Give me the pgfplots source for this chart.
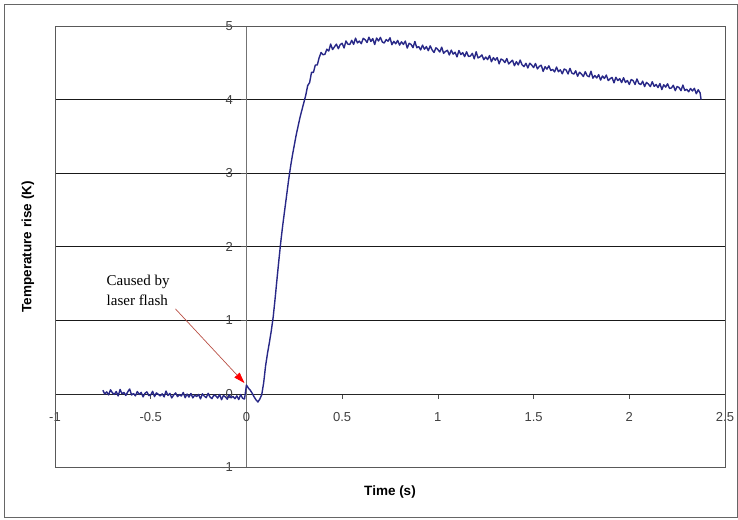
\documentclass[border=0pt]{standalone}
\usepackage{fontspec}
\setmainfont{Liberation Sans}
\newfontfamily\timesfont{Liberation Serif}
\usepackage{pgfplots}
\pgfplotsset{compat=1.18}
\usetikzlibrary{arrows.meta}
\definecolor{trace}{RGB}{40,40,135}
\definecolor{arrowline}{RGB}{185,80,70}
\begin{document}
\begin{tikzpicture}
\begin{axis}[
  scale only axis, width=670pt, height=441.5pt,
  xmin=-1, xmax=2.5, ymin=-1, ymax=5,
  axis x line=middle, axis y line=middle,
  axis line style={-},
  x axis line style={draw=black!85, line width=0.7pt},
  y axis line style={draw=black!55, line width=1pt},
  hide obscured x ticks=false, hide obscured y ticks=false,
  xtick={-1,-0.5,0,0.5,1,1.5,2,2.5},
  ytick={-1,0,1,2,3,4,5},
  xticklabels={-1,-0.5,0,0.5,1,1.5,2,2.5},
  yticklabels={-1,0,1,2,3,4,5},
  tick align=outside, major tick length=5pt,
  tick style={black!70, line width=0.6pt},
  ymajorgrids, grid style={black!90, line width=0.7pt},
  tick label style={font=\fontsize{13}{15}\selectfont, text=black!75},
  xticklabel style={anchor=north, yshift=-10pt},
  yticklabel style={anchor=east, xshift=-5pt},
  clip=false,
]
\draw[black!65, line width=0.8pt] (rel axis cs:0,0) rectangle (rel axis cs:1,1);
\addplot[trace, line width=1.4pt, line join=round] table {
-0.75 0.050
-0.74 -0.001
-0.73 0.028
-0.72 -0.013
-0.71 0.056
-0.70 0.015
-0.69 -0.006
-0.68 0.033
-0.67 -0.028
-0.66 0.061
-0.65 0.001
-0.64 0.020
-0.63 -0.021
-0.62 0.028
-0.61 0.067
-0.60 -0.014
-0.59 0.005
-0.58 -0.026
-0.57 0.033
-0.56 -0.008
-0.55 0.021
-0.54 -0.040
-0.53 0.009
-0.52 0.028
-0.51 -0.023
-0.50 -0.014
-0.49 0.035
-0.48 -0.036
-0.47 0.014
-0.46 -0.007
-0.45 -0.028
-0.44 0.001
-0.43 -0.040
-0.42 0.039
-0.41 -0.022
-0.40 0.007
-0.39 -0.054
-0.38 -0.015
-0.37 0.014
-0.36 -0.037
-0.35 -0.008
-0.34 -0.029
-0.33 0.020
-0.32 -0.051
-0.31 -0.002
-0.30 -0.043
-0.29 0.006
-0.28 -0.054
-0.27 -0.015
-0.26 -0.036
-0.25 -0.007
-0.24 -0.068
-0.23 0.001
-0.22 -0.030
-0.21 -0.051
-0.20 0.008
-0.19 -0.043
-0.18 -0.064
-0.17 -0.015
-0.16 -0.026
-0.15 -0.057
-0.14 -0.008
-0.13 -0.079
-0.12 -0.020
-0.11 -0.041
-0.10 -0.071
-0.09 -0.012
-0.08 -0.053
-0.07 -0.034
-0.06 -0.065
-0.05 -0.026
-0.04 -0.077
-0.03 -0.008
-0.02 -0.059
-0.01 -0.070
0.00 0.12
0.01 0.08
0.02 0.05
0.03 0.01
0.04 -0.04
0.05 -0.08
0.06 -0.11
0.07 -0.07
0.08 -0.01
0.09 0.15
0.10 0.38
0.11 0.55
0.12 0.70
0.13 0.86
0.14 1.05
0.15 1.30
0.16 1.57
0.17 1.83
0.18 2.08
0.19 2.30
0.20 2.50
0.21 2.70
0.22 2.90
0.23 3.08
0.24 3.24
0.25 3.38
0.26 3.52
0.27 3.64
0.28 3.76
0.29 3.86
0.30 3.96
0.31 4.06
0.32 4.19
0.33 4.23
0.34 4.37
0.35 4.37
0.36 4.47
0.37 4.47
0.38 4.57
0.39 4.64
0.40 4.61
0.41 4.615
0.42 4.685
0.43 4.66
0.44 4.755
0.45 4.68
0.46 4.717
0.47 4.754
0.48 4.691
0.49 4.748
0.50 4.765
0.51 4.701
0.52 4.797
0.53 4.753
0.54 4.749
0.55 4.805
0.56 4.75
0.57 4.835
0.58 4.77
0.59 4.795
0.60 4.76
0.61 4.832
0.62 4.814
0.63 4.776
0.64 4.848
0.65 4.79
0.66 4.829
0.67 4.748
0.68 4.837
0.69 4.796
0.70 4.845
0.71 4.782
0.72 4.769
0.73 4.816
0.74 4.793
0.75 4.84
0.76 4.746
0.77 4.792
0.78 4.758
0.79 4.804
0.80 4.74
0.81 4.785
0.82 4.75
0.83 4.795
0.84 4.70
0.85 4.765
0.86 4.75
0.87 4.705
0.88 4.79
0.89 4.705
0.90 4.72
0.91 4.675
0.92 4.74
0.93 4.685
0.94 4.72
0.95 4.665
0.96 4.73
0.97 4.675
0.98 4.64
0.99 4.705
1.00 4.68
1.01 4.646
1.02 4.712
1.03 4.628
1.04 4.654
1.05 4.67
1.06 4.606
1.07 4.672
1.08 4.618
1.09 4.644
1.10 4.58
1.11 4.666
1.12 4.612
1.13 4.638
1.14 4.584
1.15 4.65
1.16 4.586
1.17 4.592
1.18 4.628
1.19 4.554
1.20 4.65
1.21 4.566
1.22 4.581
1.23 4.607
1.24 4.542
1.25 4.578
1.26 4.543
1.27 4.599
1.28 4.514
1.29 4.570
1.30 4.535
1.31 4.571
1.32 4.486
1.33 4.552
1.34 4.537
1.35 4.503
1.36 4.558
1.37 4.484
1.38 4.509
1.39 4.535
1.40 4.46
1.41 4.516
1.42 4.471
1.43 4.537
1.44 4.472
1.45 4.448
1.46 4.493
1.47 4.429
1.48 4.494
1.49 4.470
1.50 4.435
1.51 4.491
1.52 4.416
1.53 4.452
1.54 4.467
1.55 4.383
1.56 4.448
1.57 4.414
1.58 4.459
1.59 4.395
1.60 4.41
1.61 4.376
1.62 4.442
1.63 4.378
1.64 4.404
1.65 4.35
1.66 4.416
1.67 4.402
1.68 4.348
1.69 4.424
1.70 4.36
1.71 4.346
1.72 4.391
1.73 4.317
1.74 4.372
1.75 4.348
1.76 4.313
1.77 4.379
1.78 4.324
1.79 4.310
1.80 4.385
1.81 4.291
1.82 4.327
1.83 4.293
1.84 4.339
1.85 4.265
1.86 4.321
1.87 4.287
1.88 4.333
1.89 4.259
1.90 4.285
1.91 4.301
1.92 4.227
1.93 4.303
1.94 4.259
1.95 4.285
1.96 4.231
1.97 4.297
1.98 4.233
1.99 4.259
2.00 4.205
2.01 4.272
2.02 4.258
2.03 4.205
2.04 4.281
2.05 4.218
2.06 4.204
2.07 4.251
2.08 4.177
2.09 4.234
2.10 4.21
2.11 4.177
2.12 4.243
2.13 4.180
2.14 4.206
2.15 4.163
2.16 4.219
2.17 4.136
2.18 4.202
2.19 4.169
2.20 4.215
2.21 4.152
2.22 4.158
2.23 4.195
2.24 4.121
2.25 4.178
2.26 4.164
2.27 4.121
2.28 4.197
2.29 4.124
2.30 4.14
2.31 4.106
2.32 4.151
2.33 4.117
2.34 4.153
2.35 4.079
2.36 4.134
2.37 4.09
2.375 4.00
};
\draw[arrowline, line width=0.7pt, -{Triangle[length=11pt,width=7pt,color=red]}]
  (axis cs:-0.371,1.156) -- (axis cs:-0.010,0.147);
\node[anchor=base west, inner sep=0pt, font=\timesfont\fontsize{15}{18}\selectfont]
  at (axis cs:-0.731,1.472) {Caused by};
\node[anchor=base west, inner sep=0pt, font=\timesfont\fontsize{15}{18}\selectfont]
  at (axis cs:-0.731,1.201) {laser flash};
\node[font=\bfseries\fontsize{13.5}{16}\selectfont, anchor=center]
  at ([yshift=-24.5pt]rel axis cs:0.5,0) {Time (s)};
\node[font=\bfseries\fontsize{13.5}{16}\selectfont, anchor=center, rotate=90]
  at ([xshift=-27pt]rel axis cs:0,0.5) {Temperature rise (K)};
\end{axis}
\draw[black!60, line width=0.9pt] (-51pt,-49.5pt) rectangle (682pt,463.5pt);
\pgfresetboundingbox
\path[use as bounding box] (-55pt,-51.5pt) rectangle (683pt,467.5pt);
\end{tikzpicture}
\end{document}
